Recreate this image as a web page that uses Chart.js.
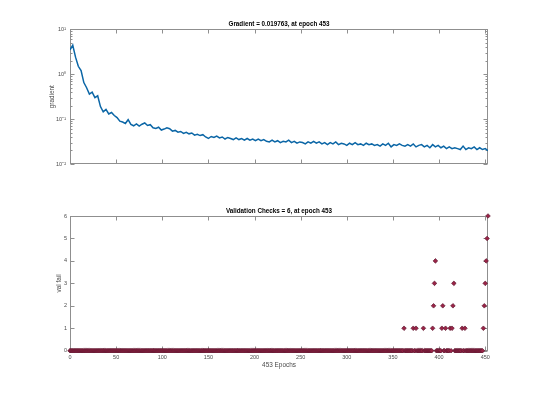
<!DOCTYPE html>
<html>
<head>
<meta charset="utf-8">
<script src="https://cdn.jsdelivr.net/npm/chart.js@4.4.1/dist/chart.umd.min.js"></script>
<style>
  html, body { margin: 0; padding: 0; background: #fff; }
  #wrap { position: relative; width: 540px; height: 394px; }
  canvas { position: absolute; left: 0; }
</style>
</head>
<body>
<div id="wrap">
  <canvas id="gradChart" width="540" height="190" style="top:0"></canvas>
  <canvas id="failChart" width="540" height="204" style="top:190px"></canvas>
</div>
<script>
// gradient sampled every 3 epochs, 0..453
const gradStep = 3;
const gradValues = [
  3.5, 4.4, 2.4, 1.5, 1.2, 0.65, 0.5, 0.36, 0.40, 0.30,
  0.33, 0.19, 0.145, 0.165, 0.13, 0.14, 0.12, 0.108, 0.09, 0.086,
  0.08, 0.097, 0.076, 0.071, 0.078, 0.07, 0.077, 0.082, 0.072, 0.075,
  0.064, 0.062, 0.066, 0.057, 0.060, 0.064, 0.061, 0.054, 0.056, 0.051,
  0.053, 0.048, 0.051, 0.047, 0.049, 0.044, 0.046, 0.043, 0.045, 0.040,
  0.037, 0.041, 0.039, 0.042, 0.038, 0.040, 0.036, 0.039, 0.037, 0.035,
  0.038, 0.035, 0.037, 0.034, 0.037, 0.034, 0.036, 0.033, 0.036, 0.033,
  0.035, 0.032, 0.031, 0.034, 0.031, 0.033, 0.030, 0.032, 0.031, 0.034,
  0.030, 0.032, 0.029, 0.031, 0.030, 0.028, 0.031, 0.029, 0.032, 0.029,
  0.031, 0.028, 0.030, 0.027, 0.030, 0.028, 0.031, 0.027, 0.029, 0.028,
  0.026, 0.029, 0.027, 0.030, 0.027, 0.028, 0.026, 0.029, 0.027, 0.028,
  0.026, 0.027, 0.025, 0.028, 0.026, 0.029, 0.024, 0.027, 0.026, 0.028,
  0.026, 0.025, 0.027, 0.025, 0.028, 0.024, 0.026, 0.027, 0.024, 0.026,
  0.023, 0.027, 0.024, 0.026, 0.023, 0.025, 0.022, 0.024, 0.022, 0.023,
  0.022, 0.021, 0.025, 0.021, 0.023, 0.022, 0.024, 0.021, 0.023, 0.021,
  0.022, 0.0198
];

// validation failures: epochs with a non-zero count, all other epochs are 0
const lastEpoch = 453;
const failEpochs = [362, 372, 375, 383, 393, 394, 395, 396, 403, 404, 407, 412, 414, 415, 416, 425, 428, 448, 449, 450, 451, 452, 453];
const failCounts = [1, 1, 1, 1, 1, 2, 3, 4, 1, 2, 1, 1, 1, 2, 3, 1, 1, 1, 2, 3, 4, 5, 6];

const epochTicks = [0, 50, 100, 150, 200, 250, 300, 350, 400, 450];
const gradTicks = [0.01, 0.1, 1, 10];
const gradTickLabels = ['10\u207B\u00B2', '10\u207B\u00B9', '10\u2070', '10\u00B9'];
const gradMinor = [0.02, 0.03, 0.04, 0.05, 0.06, 0.07, 0.08, 0.09,
                   0.2, 0.3, 0.4, 0.5, 0.6, 0.7, 0.8, 0.9,
                   2, 3, 4, 5, 6, 7, 8, 9];

const FONT = "'Liberation Sans', Arial, Helvetica, sans-serif";
const boxColor = '#8f8f8f';
const textColor = '#4a4a4a';

// matlab style box with inward ticks, title centred over the axes
const matlabBox = {
  id: 'matlabBox',
  beforeDatasetsDraw(chart, args, opts) {
    const { ctx, chartArea: a } = chart;
    const xs = chart.scales.x, ys = chart.scales.y;
    const L = Math.round(a.left) + 0.5, R = Math.round(a.right) - 0.5;
    const T = Math.round(a.top) + 0.5, B = Math.round(a.bottom) - 0.5;
    ctx.save();
    ctx.strokeStyle = boxColor;
    ctx.lineWidth = 1;
    ctx.strokeRect(L, T, R - L, B - T);
    ctx.beginPath();
    xs.ticks.forEach(t => {
      const px = Math.round(xs.getPixelForValue(t.value)) + 0.5;
      ctx.moveTo(px, B); ctx.lineTo(px, B - 4);
      ctx.moveTo(px, T); ctx.lineTo(px, T + 4);
    });
    ys.ticks.forEach(t => {
      const py = Math.round(ys.getPixelForValue(t.value)) + 0.5;
      ctx.moveTo(L, py); ctx.lineTo(L + 4, py);
      ctx.moveTo(R, py); ctx.lineTo(R - 4, py);
    });
    (opts.minor || []).forEach(v => {
      const py = Math.round(ys.getPixelForValue(v)) + 0.5;
      ctx.moveTo(R, py); ctx.lineTo(R - 2, py);
      ctx.moveTo(L, py); ctx.lineTo(L + 2, py);
    });
    ctx.stroke();
    ctx.restore();
  },
  afterDraw(chart, args, opts) {
    if (!opts.title) return;
    const { ctx, chartArea: a } = chart;
    ctx.save();
    ctx.fillStyle = '#000';
    ctx.font = 'bold 6.3px ' + FONT;
    ctx.textAlign = 'center';
    ctx.textBaseline = 'middle';
    ctx.fillText(opts.title, (a.left + a.right) / 2, opts.titleY);
    ctx.restore();
  }
};

new Chart(document.getElementById('gradChart'), {
  type: 'line',
  data: {
    datasets: [{
      data: gradValues.map((v, i) => ({ x: i * gradStep, y: v })),
      borderColor: '#0b66a6',
      borderWidth: 1.5,
      pointRadius: 0,
      tension: 0
    }]
  },
  options: {
    responsive: false,
    animation: false,
    layout: { padding: { left: 0, right: 52, top: 29.3, bottom: 0 } },
    plugins: {
      legend: { display: false },
      tooltip: { enabled: false },
      matlabBox: { minor: gradMinor, title: 'Gradient = 0.019763, at epoch 453', titleY: 24 }
    },
    scales: {
      x: {
        type: 'linear', min: 0, max: lastEpoch,
        grid: { display: false, drawTicks: false }, border: { display: false },
        ticks: { display: false },
        afterBuildTicks: s => { s.ticks = epochTicks.map(v => ({ value: v })); },
        afterFit: s => { s.height = 26; }
      },
      y: {
        type: 'logarithmic', min: 0.01, max: 10,
        grid: { display: false, drawTicks: false }, border: { display: false },
        afterBuildTicks: s => { s.ticks = gradTicks.map(v => ({ value: v })); },
        ticks: {
          autoSkip: false, padding: 4, color: textColor,
          font: { family: FONT, size: 5.5 },
          callback: v => gradTickLabels[gradTicks.indexOf(v)]
        },
        title: {
          display: true, text: 'gradient', color: textColor,
          font: { family: FONT, size: 6.4 }, padding: { top: 47.9 }
        },
        afterFit: s => { s.width = 70; }
      }
    }
  },
  plugins: [matlabBox]
});

const failData = [];
for (let e = 0; e <= lastEpoch; e++) {
  const k = failEpochs.indexOf(e);
  failData.push({ x: e, y: k >= 0 ? failCounts[k] : 0 });
}

new Chart(document.getElementById('failChart'), {
  type: 'scatter',
  data: {
    datasets: [{
      data: failData,
      pointStyle: 'rectRot',
      pointRadius: 2.3,
      backgroundColor: '#9a2447',
      borderColor: '#5e1830',
      borderWidth: 0.7,
      clip: false
    }]
  },
  options: {
    responsive: false,
    animation: false,
    layout: { padding: { left: 0, right: 52, top: 26, bottom: 0 } },
    plugins: {
      legend: { display: false },
      tooltip: { enabled: false },
      matlabBox: { title: 'Validation Checks = 6, at epoch 453', titleY: 21 }
    },
    scales: {
      x: {
        type: 'linear', min: 0, max: lastEpoch,
        grid: { display: false, drawTicks: false }, border: { display: false },
        afterBuildTicks: s => { s.ticks = epochTicks.map(v => ({ value: v })); },
        ticks: {
          autoSkip: false, maxRotation: 0, padding: 3, color: textColor,
          font: { family: FONT, size: 5.5 }
        },
        title: {
          display: true, text: lastEpoch + ' Epochs', color: textColor,
          font: { family: FONT, size: 6.4 }, padding: { bottom: 25.2 }
        },
        afterFit: s => { s.height = 43.3; }
      },
      y: {
        min: 0, max: 6,
        grid: { display: false, drawTicks: false }, border: { display: false },
        ticks: {
          stepSize: 1, autoSkip: false, padding: 3, color: textColor,
          font: { family: FONT, size: 5.5 }
        },
        title: {
          display: true, text: 'val fail', color: textColor,
          font: { family: FONT, size: 6.4 }, padding: { top: 55.5 }
        },
        afterFit: s => { s.width = 70; }
      }
    }
  },
  plugins: [matlabBox]
});
</script>
</body>
</html>
